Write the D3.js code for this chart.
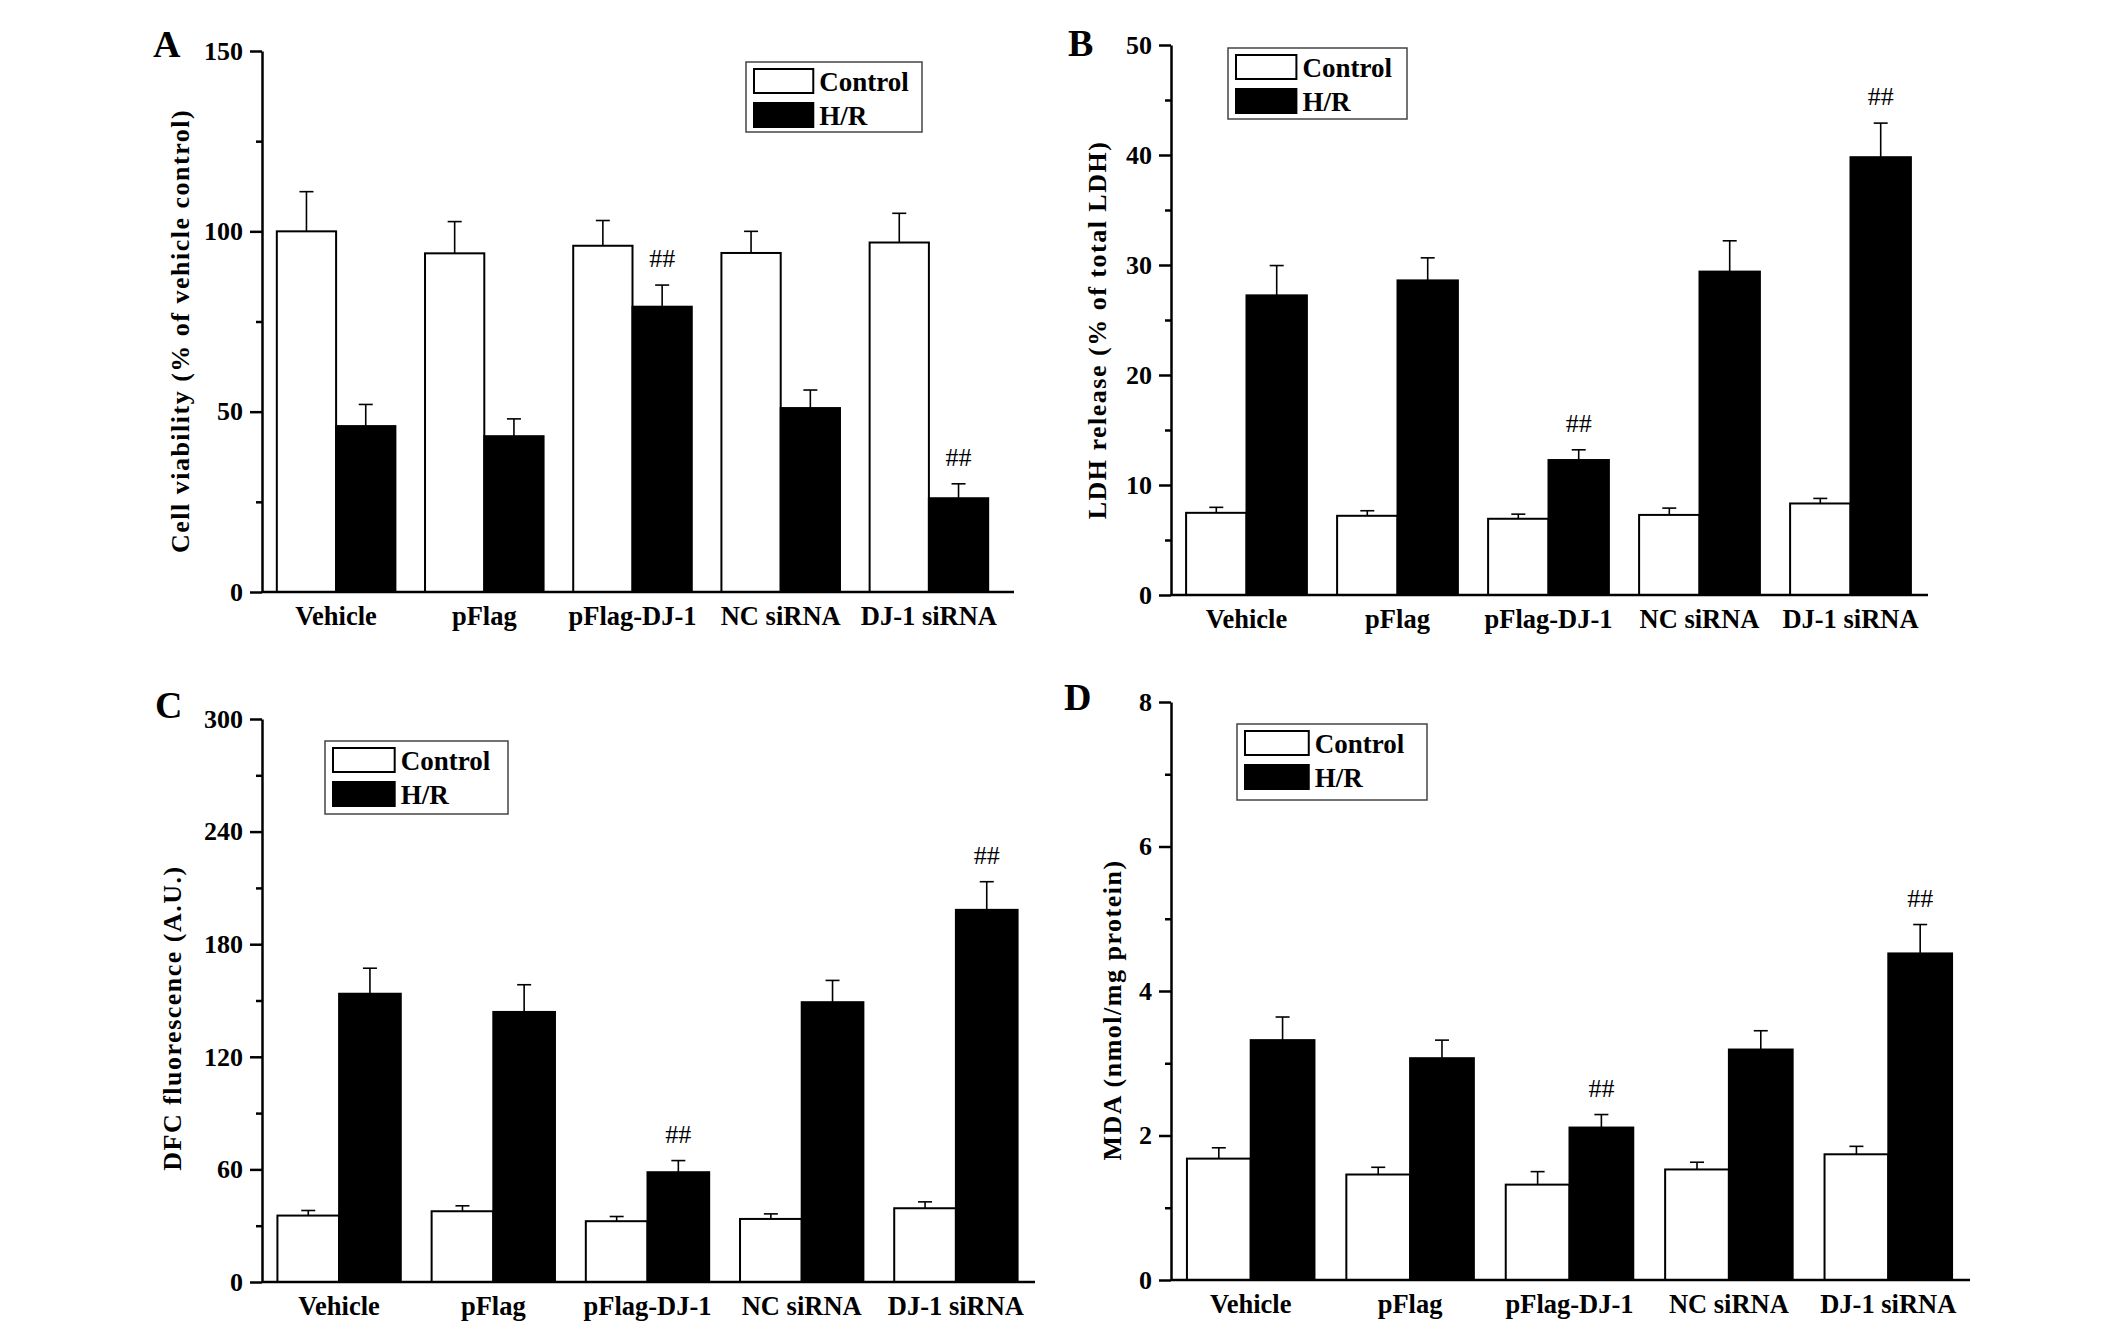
<!DOCTYPE html>
<html>
<head>
<meta charset="utf-8">
<title>DJ-1 H/R panels</title>
<script src="https://d3js.org/d3.v7.min.js"></script>
<style>
body { margin: 0; background: #fff; }
text { font-family: "Liberation Serif", "Times New Roman", serif; fill: #000; }
.axis path, .axis line { stroke: #000; stroke-width: 2.5px; }
.axis text { font-size: 26px; font-weight: bold; }
</style>
</head>
<body>
<div id="chart"></div>
<script>
// groups and series
var categories = ["Vehicle", "pFlag", "pFlag-DJ-1", "NC siRNA", "DJ-1 siRNA"];
var seriesNames = ["Control", "H/R"];
var hashMarks = ["", "", "##", "", "##"];

// A - cell viability (% of vehicle control)
var viabilityControl = [100, 93.9, 96, 94, 96.9];
var viabilityControlErr = [11, 8.8, 7, 6, 8.1];
var viabilityHR = [46, 43.2, 79.1, 51, 26];
var viabilityHRErr = [6, 4.8, 6, 5, 4];
var viabilityTicks = [0, 50, 100, 150];
var viabilityMinor = [25, 75, 125];

// B - LDH release (% of total LDH)
var ldhControl = [7.47, 7.2, 6.93, 7.28, 8.32];
var ldhControlErr = [0.5, 0.46, 0.42, 0.62, 0.46];
var ldhHR = [27.24, 28.6, 12.27, 29.4, 39.8];
var ldhHRErr = [2.71, 2.05, 0.93, 2.8, 3.1];
var ldhTicks = [0, 10, 20, 30, 40, 50];
var ldhMinor = [5, 15, 25, 35, 45];

// C - DFC fluorescence (A.U.)
var dfcControl = [35.4, 37.7, 32.4, 33.6, 39.3];
var dfcControlErr = [2.7, 2.9, 2.5, 2.7, 3.4];
var dfcHR = [153.6, 143.9, 58.5, 149.1, 198.3];
var dfcHRErr = [13.6, 14.5, 6.2, 11.6, 15];
var dfcTicks = [0, 60, 120, 180, 240, 300];
var dfcMinor = [30, 90, 150, 210, 270];

// D - MDA (nmol/mg protein)
var mdaControl = [1.68, 1.46, 1.32, 1.53, 1.74];
var mdaControlErr = [0.15, 0.1, 0.18, 0.1, 0.11];
var mdaHR = [3.32, 3.07, 2.11, 3.19, 4.52];
var mdaHRErr = [0.32, 0.25, 0.18, 0.26, 0.4];
var mdaTicks = [0, 2, 4, 6, 8];
var mdaMinor = [1, 3, 5, 7];

// span = width taken by the groups, width = length of the x axis line
var panels = [
    {letter: "A", label: "Cell viability (% of vehicle control)",
     control: viabilityControl, controlErr: viabilityControlErr, hr: viabilityHR, hrErr: viabilityHRErr,
     ticks: viabilityTicks, minor: viabilityMinor,
     left: 262, top: 51, bottom: 592, span: 741, width: 752,
     legend: {x: 746, y: 62, w: 176, h: 70}, letterPos: [153, 57], labelPos: [180, 331]},
    {letter: "B", label: "LDH release (% of total LDH)",
     control: ldhControl, controlErr: ldhControlErr, hr: ldhHR, hrErr: ldhHRErr,
     ticks: ldhTicks, minor: ldhMinor,
     left: 1171, top: 45, bottom: 595, span: 755, width: 757,
     legend: {x: 1228, y: 48, w: 179, h: 71}, letterPos: [1068, 56], labelPos: [1097, 330]},
    {letter: "C", label: "DFC fluorescence (A.U.)",
     control: dfcControl, controlErr: dfcControlErr, hr: dfcHR, hrErr: dfcHRErr,
     ticks: dfcTicks, minor: dfcMinor,
     left: 262, top: 719, bottom: 1282, span: 771, width: 773,
     legend: {x: 325, y: 741, w: 183, h: 73}, letterPos: [155, 718], labelPos: [172, 1018]},
    {letter: "D", label: "MDA (nmol/mg protein)",
     control: mdaControl, controlErr: mdaControlErr, hr: mdaHR, hrErr: mdaHRErr,
     ticks: mdaTicks, minor: mdaMinor,
     left: 1171, top: 702, bottom: 1280, span: 797, width: 799,
     legend: {x: 1237, y: 724, w: 190, h: 76}, letterPos: [1064, 710], labelPos: [1112, 1010]}
];

var svg = d3.select("#chart").append("svg")
    .attr("width", 2128)
    .attr("height", 1332);

svg.append("rect").attr("width", 2128).attr("height", 1332).attr("fill", "#fff");

function drawPanel(p) {
    var h = p.bottom - p.top;
    var g = svg.append("g").attr("transform", "translate(" + p.left + "," + p.top + ")");

    var y = d3.scaleLinear().domain([0, p.ticks[p.ticks.length - 1]]).range([h, 0]);
    var x0 = d3.scaleBand().domain(categories).range([0, p.span]).paddingInner(0.2).paddingOuter(0.1);
    var x1 = d3.scaleBand().domain(seriesNames).range([0, x0.bandwidth()]);

    var rows = categories.map(function(c, i) {
        return [
            {cat: c, s: "Control", v: p.control[i], e: p.controlErr[i], mark: ""},
            {cat: c, s: "H/R", v: p.hr[i], e: p.hrErr[i], mark: hashMarks[i]}
        ];
    });
    var flat = d3.merge(rows);
    var cx = function(d){ return x0(d.cat) + x1(d.s) + x1.bandwidth() / 2; };

    // error bars (up only)
    var err = g.selectAll(".err").data(flat).enter().append("g").attr("class", "err");
    err.append("line")
        .attr("x1", cx).attr("x2", cx)
        .attr("y1", function(d){ return y(d.v); })
        .attr("y2", function(d){ return y(d.v + d.e); })
        .attr("stroke", "#000").attr("stroke-width", 1.6);
    err.append("line")
        .attr("x1", function(d){ return cx(d) - 7; })
        .attr("x2", function(d){ return cx(d) + 7; })
        .attr("y1", function(d){ return y(d.v + d.e); })
        .attr("y2", function(d){ return y(d.v + d.e); })
        .attr("stroke", "#000").attr("stroke-width", 1.6);

    g.selectAll(".bar").data(flat).enter().append("rect")
        .attr("class", "bar")
        .attr("x", function(d){ return x0(d.cat) + x1(d.s); })
        .attr("y", function(d){ return y(d.v); })
        .attr("width", x1.bandwidth())
        .attr("height", function(d){ return h - y(d.v); })
        .attr("fill", function(d){ return d.s == "Control" ? "#fff" : "#000"; })
        .attr("stroke", "#000")
        .attr("stroke-width", 2);

    g.selectAll(".mark").data(flat.filter(function(d){ return d.mark != ""; })).enter().append("text")
        .attr("class", "mark")
        .attr("x", cx)
        .attr("y", function(d){ return y(d.v + d.e) - 18; })
        .attr("text-anchor", "middle")
        .attr("font-size", 26)
        .text(function(d){ return d.mark; });

    // y axis, minor then major ticks
    var minorAxis = g.append("g").attr("class", "axis")
        .call(d3.axisLeft(y).tickValues(p.minor).tickSize(6).tickFormat(""));
    minorAxis.select(".domain").remove();
    g.append("g").attr("class", "axis")
        .call(d3.axisLeft(y).tickValues(p.ticks).tickSize(12).tickSizeOuter(0).tickPadding(7));

    // x axis line, no ticks
    g.append("line")
        .attr("x1", 0).attr("x2", p.width)
        .attr("y1", h).attr("y2", h)
        .attr("stroke", "#000").attr("stroke-width", 2.5);

    g.selectAll(".cat").data(categories).enter().append("text")
        .attr("class", "cat")
        .attr("x", function(d){ return x0(d) + x0.bandwidth() / 2; })
        .attr("y", h + 33)
        .attr("text-anchor", "middle")
        .attr("font-size", 26.5)
        .attr("font-weight", "bold")
        .text(function(d){ return d; });

    // legend
    var lg = svg.append("g").attr("transform", "translate(" + p.legend.x + "," + p.legend.y + ")");
    lg.append("rect").attr("width", p.legend.w).attr("height", p.legend.h)
        .attr("fill", "#fff").attr("stroke", "#444").attr("stroke-width", 1.5);
    var item = lg.selectAll(".item").data(seriesNames).enter().append("g")
        .attr("transform", function(d, i){ return "translate(8," + (7 + i * 34) + ")"; });
    item.append("rect")
        .attr("width", x1.bandwidth()).attr("height", 24)
        .attr("fill", function(d){ return d == "Control" ? "#fff" : "#000"; })
        .attr("stroke", "#000").attr("stroke-width", 2);
    item.append("text")
        .attr("x", x1.bandwidth() + 6)
        .attr("y", 22)
        .attr("font-size", 27)
        .attr("font-weight", "bold")
        .text(function(d){ return d; });

    svg.append("text")
        .attr("x", p.letterPos[0]).attr("y", p.letterPos[1])
        .attr("font-size", 38).attr("font-weight", "bold")
        .text(p.letter);

    svg.append("text")
        .attr("transform", "translate(" + p.labelPos[0] + "," + p.labelPos[1] + ") rotate(-90)")
        .attr("text-anchor", "middle")
        .attr("dominant-baseline", "central")
        .attr("font-size", 26)
        .attr("font-weight", "bold")
        .attr("letter-spacing", 1.5)
        .text(p.label);
}

panels.forEach(drawPanel);
</script>
</body>
</html>
